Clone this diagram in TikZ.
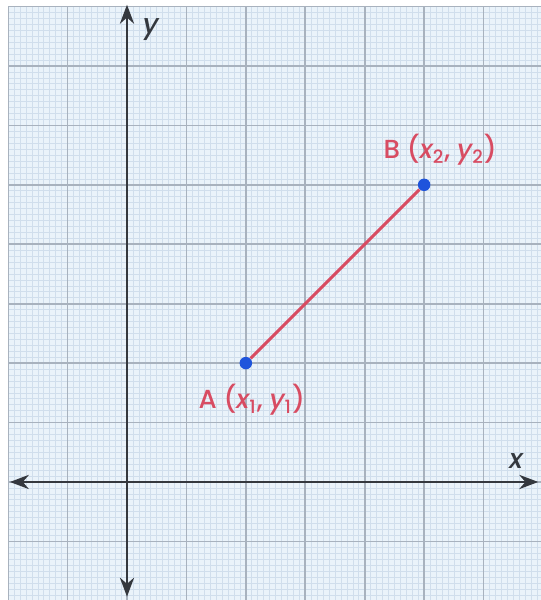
\documentclass[tikz,border=0pt]{standalone}
\usepackage{fontspec}
\setmainfont{Poppins}
\newfontfamily\lblfont{Poppins Medium}[ItalicFont={Poppins Medium Italic}]
\usepackage{xcolor}
\usetikzlibrary{arrows.meta, positioning, calc}
\definecolor{paperblue}{RGB}{234,243,250}
\definecolor{minorgrid}{RGB}{208,222,236}
\definecolor{majorgrid}{RGB}{168,178,190}
\definecolor{axisgray}{RGB}{52,56,62}
\definecolor{segred}{RGB}{216,76,98}
\definecolor{dotblue}{RGB}{30,84,220}
\tikzset{
  axis/.style={{Stealth[length=3.2mm,width=2.4mm]}-{Stealth[length=3.2mm,width=2.4mm]}, line width=0.9pt, axisgray},
  minorline/.style={minorgrid, line width=0.3pt},
  majorline/.style={majorgrid, line width=0.8pt},
  pt/.style={circle, fill=dotblue, inner sep=0pt, minimum size=2.1mm},
  seg/.style={segred, line width=1.4pt},
  ptlbl/.style={font=\lblfont\fontsize{12.5}{14}\selectfont, text=segred, inner sep=1pt},
  axlbl/.style={font=\lblfont\fontsize{13}{15}\selectfont\itshape, text=axisgray, inner sep=0pt}
}

\begin{document}
\begin{tikzpicture}
  \useasboundingbox (-2.137,-1.986) rectangle (6.966,8.110);
  \fill[white] (-2.137,-1.986) rectangle (6.966,8.110);
  % graph paper
  \begin{scope}
    \clip (-2,-1.986) rectangle (6.966,8);
    \fill[paperblue] (-2,-2) rectangle (7,8);
    \draw[minorline, step=0.1] (-2,-2) grid (7,8);
    \draw[majorline, step=1] (-2,-2) grid (7,8);
  \end{scope}
  % axes
  \coordinate (xl) at (-1.97,0);
  \coordinate (xr) at (6.92,0);
  \coordinate (yb) at (0,-1.93);
  \coordinate (yt) at (0,8.03);
  \draw[axis] (xl) -- (xr);
  \draw[axis] (yb) -- (yt);
  \node[axlbl] (xlab) at (6.55,0.35) {x};
  \node[axlbl] (ylab) at (0.4,7.62) {y};
  % segment AB
  \node[pt] (A) at (2,2) {};
  \node[pt] (B) at (5,5) {};
  \draw[seg] (A) -- (B);
  \node[ptlbl, below=0.2 of A, xshift=0.1cm] (Alab) {A ({\itshape x}\textsubscript{1}, {\itshape y}\textsubscript{1})};
  \node[ptlbl, above=0.18 of B, xshift=0.27cm] (Blab) {B ({\itshape x}\textsubscript{2}, {\itshape y}\textsubscript{2})};
\end{tikzpicture}
\end{document}
